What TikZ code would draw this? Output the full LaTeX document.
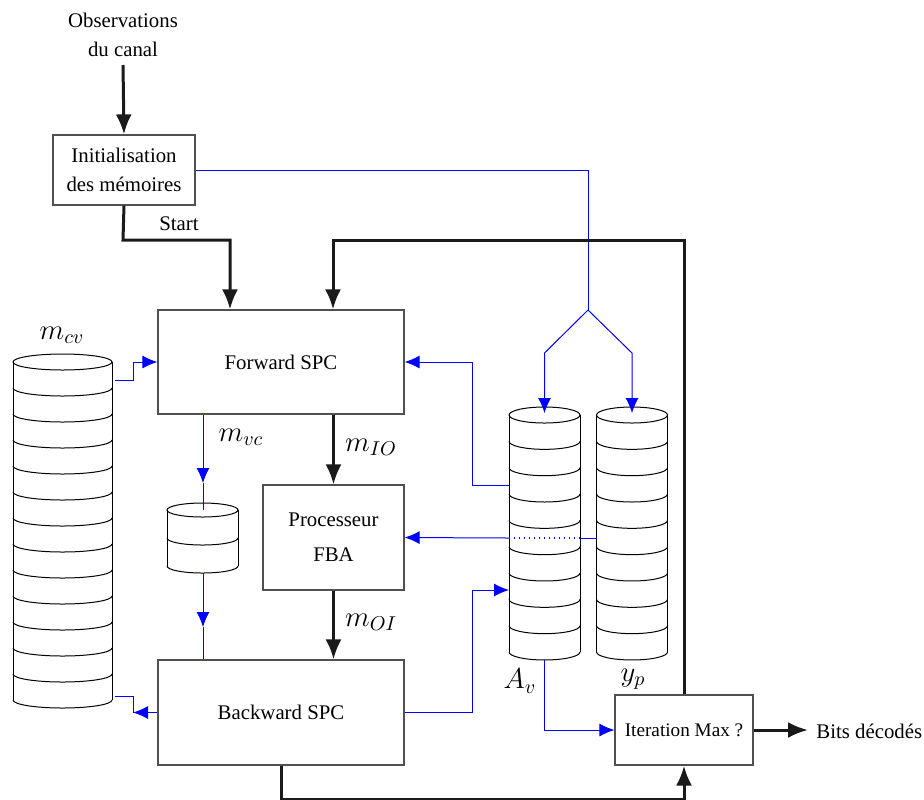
\documentclass[tikz,border=0pt]{standalone}
\usepackage{fontspec}
\setmainfont{Liberation Serif}
\usetikzlibrary{arrows.meta}
\definecolor{bk}{RGB}{26,26,26}
\definecolor{boxgrey}{RGB}{80,80,80}
\tikzset{
  txt/.style={font=\fontsize{10.4}{12.5}\selectfont, inner sep=0pt},
  mlab/.style={font=\fontsize{14.4}{16}\selectfont, inner sep=0pt},
  blk/.style={draw=boxgrey, line width=0.6pt, font=\fontsize{10.4}{12.5}\selectfont, align=center, inner sep=0pt},
  thk/.style={draw=bk, line width=1.5pt, -{Latex[length=10pt,width=8pt]}},
  bl/.style={draw=blue, line width=0.5pt},
  bla/.style={draw=blue, line width=0.5pt, -{Latex[length=7.5pt,width=6.5pt]}},
  cyl/.style={draw=black, line width=0.5pt},
}
\newcommand\stackcyl[6]{%
  \pgfmathsetmacro\cL{#1-#3}\pgfmathsetmacro\cR{#1+#3}%
  \pgfmathsetmacro\cB{#2+#5*#6}%
  \pgfmathsetmacro\rX{#3*0.5}\pgfmathsetmacro\rY{#4*0.5}%
  \draw[cyl] (#1,#2) ellipse[x radius=\rX pt, y radius=\rY pt];
  \draw[cyl] (\cL,#2) -- (\cL,\cB) (\cR,#2) -- (\cR,\cB);
  \foreach \k in {1,...,#6}{%
    \pgfmathsetmacro\cY{#2+#5*\k}%
    \draw[cyl] (\cL,\cY) arc[start angle=180,end angle=360,x radius=\rX pt,y radius=\rY pt];
  }%
}
\begin{document}
\begin{tikzpicture}[x=0.5pt,y=-0.5pt]
\useasboundingbox (0,0) rectangle (924,799);

% text
\node[txt,align=center] (obs) at (123,35) {Observations\\[2pt]du canal};
\coordinate (obsend) at (123,65);

% boxes
\node[blk, minimum width=71pt, minimum height=35pt] (init) at (124,170) {Initialisation\\[2pt]des mémoires};
\node[blk, minimum width=123pt, minimum height=52pt] (fwd) at (281,362) {Forward SPC};
\node[blk, minimum width=70.5pt, minimum height=52.5pt] (fba) at (333.5,537.5) {Processeur\\[5pt]FBA};
\node[blk, minimum width=123pt, minimum height=52.5pt] (bwd) at (281,712.5) {Backward SPC};
\node[blk, minimum width=69pt, minimum height=35pt, font=\fontsize{9.6}{11}\selectfont] (iter) at (684,730) {Iteration Max ?};
\node[txt, anchor=west] (bits) at (816,731) {Bits décodés};
\node[txt] (start) at (179,224) {Start};

% math labels
\node[mlab] (lmcv) at (62,335) {$m_{cv}$};
\node[mlab] (lmvc) at (241,437) {$m_{vc}$};
\node[mlab] (lmio) at (371,447) {$m_{IO}$};
\node[mlab] (lmoi) at (371,622) {$m_{OI}$};
\node[mlab] (lav) at (520,681) {$A_v$};
\node[mlab] (lyp) at (633,679) {$y_p$};

% cylinders
\stackcyl{62.5}{362}{49.5}{8}{26}{13}
\stackcyl{544.5}{415}{35.5}{8}{26.33}{9}
\stackcyl{632}{415}{35.5}{8}{26.33}{9}
\stackcyl{202.5}{510}{35.5}{7}{28}{2}

% coordinates
\coordinate (split) at (588,310);
\coordinate (avin) at (544.5,413);
\coordinate (ypin) at (632,413);
\coordinate (mcvout) at (115,380);
\coordinate (mcvin) at (115,696);
\coordinate (mvcmid1) at (203,483);
\coordinate (mvctop) at (203,510);
\coordinate (mvcbot) at (203,573);
\coordinate (mvcmid2) at (203,627);
\coordinate (avout1) at (509,485);
\coordinate (ypout) at (596.5,538);
\coordinate (avR) at (580,538);
\coordinate (avL) at (509,538);
\coordinate (avin2) at (509,590);
\coordinate (avbot) at (544.5,660);
\coordinate (bwdcorner) at (133,712.5);
\coordinate (bitsend) at (808,730);

% blue connectors
\draw[bl] (init.east) -| (split);
\draw[bla] (split) -- (544.5,353) -- (avin);
\draw[bla] (split) -- (632,353) -- (ypin);
\draw[bla] (mcvout) -- (133,380) -- (133,362) -- (fwd.west);
\draw[bla] (bwd.west) -- (bwdcorner);
\draw[bl] (bwdcorner) -- (133,696) -- (mcvin);
\draw[bla] (fwd.south -| mvcmid1) -- (mvcmid1);
\draw[bl] (mvcmid1) -- (mvctop);
\draw[bla] (mvcbot) -- (mvcmid2);
\draw[bl] (mvcmid2) -- (bwd.north -| mvcmid2);
\draw[bla] (avout1) -- (472,485) -- (472,362) -- (fwd.east);
\draw[bl] (ypout) -- (avR);
\draw[bl, dotted, line width=0.7pt] (avR) -- (avL);
\draw[bla] (avL) -- (fba.east);
\draw[bla] (bwd.east) -- (472,712.5) -- (472,590) -- (avin2);
\draw[bla] (avbot) |- (iter.west);

% black thick connectors
\draw[thk] (obsend) -- (init.north);
\draw[thk] (init.south) -- (123,240) -- (230,240) -- (fwd.north -| 230,0);
\draw[thk] (iter.north) -- (684,240) -- (333,240) -- (fwd.north -| 333,0);
\draw[thk] (fwd.south -| fba.north) -- (fba.north);
\draw[thk] (fba.south) -- (bwd.north -| fba.south);
\draw[thk] (bwd.south) -- (281,799.5) -- (684,799.5) -- (iter.south);
\draw[thk] (iter.east) -- (bitsend);
\end{tikzpicture}
\end{document}
